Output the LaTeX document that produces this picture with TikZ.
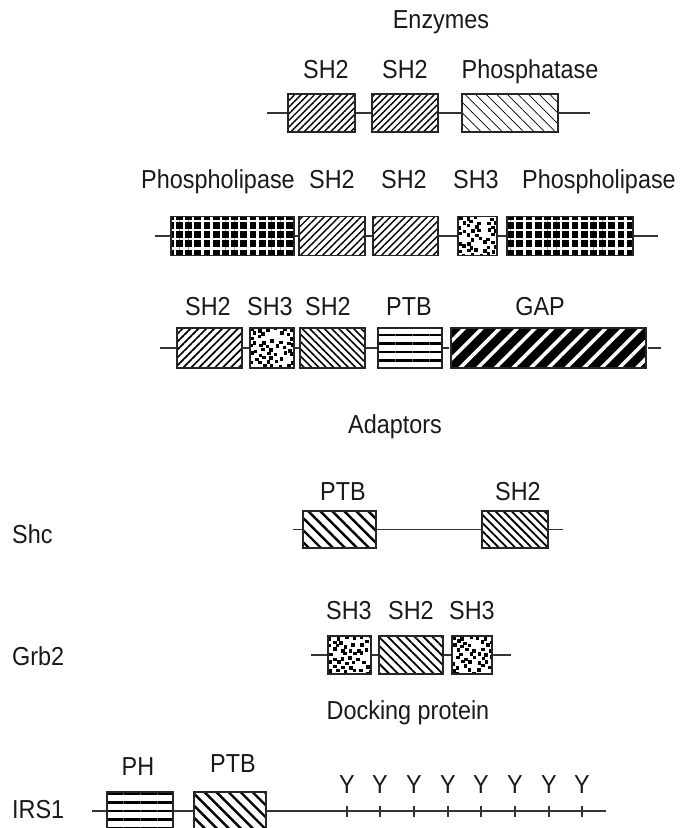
\documentclass[tikz,border=0pt]{standalone}
\usepackage{fontspec}
\setmainfont{Liberation Sans}[FakeStretch=0.9]
\usetikzlibrary{patterns.meta}
\tikzset{
  lbl/.style={anchor=base, inner sep=0pt, font=\fontsize{26}{30}\selectfont, text=black!90},
  side/.style={lbl, anchor=base west},
  box/.style={draw=black!85, line width=1.7pt, inner sep=0pt, minimum width=#1},
  conn/.style={draw=black!80, line width=1.4pt},
  ne/.style 2 args={pattern={Lines[angle=45,distance=#1,line width=#2]}},
  nw/.style 2 args={pattern={Lines[angle=-45,distance=#1,line width=#2]}},
  hz/.style 2 args={pattern={Lines[angle=0,distance=#1,line width=#2]}},
  grid/.style={preaction={fill=black}, pattern={Hatch[angle=0,distance=9.2pt,line width=2.5pt]}, pattern color=white},
  gap/.style={preaction={fill=black}, pattern={Lines[angle=45,distance=12.5pt,line width=3.6pt]}, pattern color=white},
  dots/.style={path picture={
    \pgfmathsetseed{#1}
    \coordinate (dnw) at (path picture bounding box.north west);
    \foreach \i in {-1,...,12}{\foreach \j in {-1,...,11}{
      \pgfmathtruncatemacro\dotpar{mod(\i+\j+20,2)}
      \ifnum\dotpar=0
        \pgfmathtruncatemacro\dotr{100*rnd}
        \ifnum\dotr<85
          \pgfmathsetmacro\dotdx{\i*4.1+1.4*rand}
          \pgfmathsetmacro\dotdy{\j*4.1+1.4*rand}
          \fill[black] ([xshift=\dotdx pt, yshift=-\dotdy pt]dnw) rectangle ++(3.6,3.6);
        \fi
      \fi
    }}}},
}
\begin{document}
\begin{tikzpicture}[x=1pt,y=-1pt]
\useasboundingbox (0,0) rectangle (685,828);
\clip (0,0) rectangle (685,828);

% ---------- Enzymes ----------
\node[lbl] (tEnz) at (441,28) {Enzymes};

% row 1
\node[lbl] (l1a) at (326,78) {SH2};
\node[lbl] (l1b) at (405,78) {SH2};
\node[lbl] (l1c) at (530,78) {Phosphatase};
\coordinate (r1s) at (267,113);
\coordinate (r1e) at (590,113);
\node[box=67pt, minimum height=38pt, ne={4.7pt}{1.4pt}] (b1a) at (321.5,113) {};
\node[box=66pt, minimum height=38pt, ne={4.7pt}{1.4pt}] (b1b) at (405,113) {};
\node[box=96pt, minimum height=38pt, nw={7.5pt}{0.7pt}] (b1c) at (510,113) {};
\draw[conn] (r1s) -- (b1a.west);
\draw[conn] (b1a.east) -- (b1b.west);
\draw[conn] (b1b.east) -- (b1c.west);
\draw[conn] (b1c.east) -- (r1e);

% row 2
\node[lbl] (l2a) at (218,188) {Phospholipase};
\node[lbl] (l2b) at (332,188) {SH2};
\node[lbl] (l2c) at (404,188) {SH2};
\node[lbl] (l2d) at (476,188) {SH3};
\node[lbl] (l2e) at (599,188) {Phospholipase};
\coordinate (r2s) at (155,236);
\coordinate (r2e) at (658,236);
\node[box=123pt, minimum height=39pt, grid] (b2a) at (232.5,236) {};
\node[box=66pt, minimum height=39pt, ne={5.2pt}{1.4pt}] (b2b) at (332,236) {};
\node[box=65pt, minimum height=39pt, ne={5.2pt}{1.4pt}] (b2c) at (405.5,236) {};
\node[box=39pt, minimum height=39pt, dots=11] (b2d) at (477.5,236) {};
\node[box=126pt, minimum height=39pt, grid] (b2e) at (570,236) {};
\draw[conn] (r2s) -- (b2a.west);
\draw[conn] (b2a.east) -- (b2b.west);
\draw[conn] (b2b.east) -- (b2c.west);
\draw[conn] (b2c.east) -- (b2d.west);
\draw[conn] (b2d.east) -- (b2e.west);
\draw[conn] (b2e.east) -- (r2e);

% row 3
\node[lbl] (l3a) at (208,315) {SH2};
\node[lbl] (l3b) at (270,315) {SH3};
\node[lbl] (l3c) at (328,315) {SH2};
\node[lbl] (l3d) at (409,315) {PTB};
\node[lbl] (l3e) at (540,315) {GAP};
\coordinate (r3s) at (160,348);
\coordinate (r3e) at (661,348);
\node[box=65pt, minimum height=40pt, ne={5.6pt}{1.7pt}] (b3a) at (209.5,348) {};
\node[box=44pt, minimum height=40pt, dots=23] (b3b) at (272,348) {};
\node[box=65pt, minimum height=40pt, nw={5.2pt}{1.6pt}] (b3c) at (332.5,348) {};
\node[box=64pt, minimum height=40pt, hz={8.5pt}{2.6pt}] (b3d) at (410,348) {};
\node[box=195pt, minimum height=40pt, gap] (b3e) at (548.5,348) {};
\draw[conn] (r3s) -- (b3a.west);
\draw[conn] (b3a.east) -- (b3b.west);
\draw[conn] (b3b.east) -- (b3c.west);
\draw[conn] (b3c.east) -- (b3d.west);
\draw[conn] (b3d.east) -- (b3e.west);
\draw[conn] (b3e.east) -- (r3e);

% ---------- Adaptors ----------
\node[lbl] (tAd) at (395,433) {Adaptors};

% Shc
\node[side] (shc) at (12,543) {Shc};
\node[lbl] (l4a) at (343,500) {PTB};
\node[lbl] (l4b) at (518,500) {SH2};
\coordinate (r4s) at (293,529.5);
\coordinate (r4e) at (563,529.5);
\node[box=73pt, minimum height=37pt, nw={8.5pt}{2.4pt}] (b4a) at (339.5,529.5) {};
\node[box=66pt, minimum height=37pt, nw={5.8pt}{1.8pt}] (b4b) at (515,529.5) {};
\draw[conn] (r4s) -- (b4a.west);
\draw[conn] (b4a.east) -- (b4b.west);
\draw[conn] (b4b.east) -- (r4e);

% Grb2
\node[side] (grb) at (12,665) {Grb2};
\node[lbl] (l5a) at (349,619) {SH3};
\node[lbl] (l5b) at (411,619) {SH2};
\node[lbl] (l5c) at (472,619) {SH3};
\coordinate (r5s) at (311,655);
\coordinate (r5e) at (511,655);
\node[box=43pt, minimum height=38pt, dots=37] (b5a) at (349.5,655) {};
\node[box=64pt, minimum height=38pt, nw={6.3pt}{1.8pt}] (b5b) at (411,655) {};
\node[box=40pt, minimum height=38pt, dots=41] (b5c) at (472,655) {};
\draw[conn] (r5s) -- (b5a.west);
\draw[conn] (b5a.east) -- (b5b.west);
\draw[conn] (b5b.east) -- (b5c.west);
\draw[conn] (b5c.east) -- (r5e);

% ---------- Docking protein ----------
\node[lbl] (tDock) at (408,719) {Docking protein};

% IRS1
\node[side] (irs) at (12,818) {IRS1};
\node[lbl] (l6a) at (138,775) {PH};
\node[lbl] (l6b) at (233,772) {PTB};
\coordinate (r6s) at (92,811);
\coordinate (r6e) at (606,811);
\node[box=66pt, minimum height=38pt, hz={8.5pt}{2.6pt}] (b6a) at (140,811) {};
\node[box=72pt, minimum height=38pt, nw={8.5pt}{2.4pt}] (b6b) at (230,811) {};
\draw[conn] (r6s) -- (b6a.west);
\draw[conn] (b6a.east) -- (b6b.west);
\draw[conn] (b6b.east) -- (r6e);
\foreach \x [count=\k] in {347,380,414,448,481,515,549,582}{
  \node[lbl] (y\k) at (\x,793) {Y};
  \coordinate (t\k) at (\x,811);
  \draw[conn] (t\k) ++(0,-5.5) -- ++(0,11);
}
\end{tikzpicture}
\end{document}
